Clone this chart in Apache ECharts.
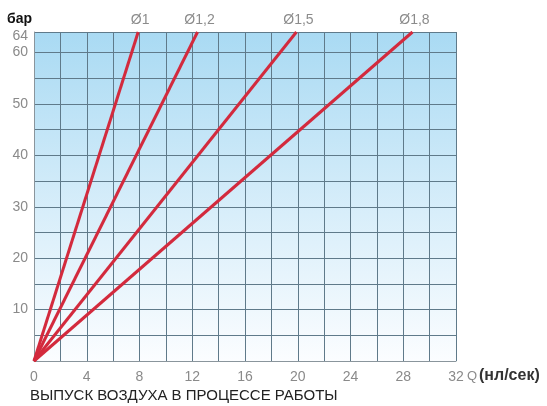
<!DOCTYPE html>
<html>
<head>
<meta charset="utf-8">
<script src="https://cdn.jsdelivr.net/npm/echarts@6/dist/echarts.min.js"></script>
<style>
html,body{margin:0;padding:0;background:#fff;}
#c{width:547px;height:406px;}
</style>
</head>
<body>
<div id="c"></div>
<script>
// Data
var seriesNames = ['Ø1', 'Ø1,2', 'Ø1,5', 'Ø1,8'];
var startQ = [0, 0, 0, 0];
var startP = [0, 0, 0, 0];
var endQ = [7.9, 12.4, 19.9, 28.7];
var endP = [64, 64, 64, 64];
var xTickLabels = [0, 4, 8, 12, 16, 20, 24, 28, 32];
var yTickLabels = [10, 20, 30, 40, 50, 60, 64];
var yAxisTitle = 'бар';
var xAxisUnit = 'Q';
var xAxisUnitText = '(нл/сек)';
var bottomTitle = 'ВЫПУСК ВОЗДУХА В ПРОЦЕССЕ РАБОТЫ';

var chart = echarts.init(document.getElementById('c'), null, {renderer: 'canvas'});
var FONT = 'Liberation Sans, Arial, sans-serif';

var series = seriesNames.map(function (name, i) {
  return {
    name: name,
    type: 'line',
    symbol: 'none',
    silent: true,
    lineStyle: {color: '#d32a3d', width: 3},
    data: [[startQ[i], startP[i]], [endQ[i], endP[i]]],
    z: 5
  };
});

// labels at the line ends
series.push({
  name: 'labels',
  type: 'scatter',
  silent: true,
  clip: false,
  symbolSize: 1,
  itemStyle: {color: 'rgba(0,0,0,0)'},
  label: {
    show: true, position: 'top', distance: 4, offset: [2, 0],
    formatter: function (p) { return seriesNames[p.dataIndex]; },
    color: '#6e6e6e', fontSize: 14, fontFamily: FONT
  },
  data: endQ.map(function (q, i) { return [q, endP[i]]; }),
  z: 6
});

chart.setOption({
  animation: false,
  grid: {
    left: 34, right: 91, top: 32, bottom: 45,
    show: true,
    borderWidth: 0,
    backgroundColor: new echarts.graphic.LinearGradient(0, 0, 0, 1, [
      {offset: 0, color: '#a9daf3'},
      {offset: 0.55, color: '#d8eefa'},
      {offset: 1, color: '#fbfdff'}
    ])
  },
  xAxis: {
    type: 'value', min: 0, max: 32, interval: 2,
    axisLine: {show: true, lineStyle: {color: '#8a959c', width: 1}},
    axisTick: {show: false},
    splitLine: {show: true, lineStyle: {color: '#5f7a8a', width: 1}},
    axisLabel: {
      color: '#8a8a8a', fontSize: 14, fontFamily: FONT, margin: 9,
      formatter: function (v) { return xTickLabels.indexOf(v) >= 0 ? String(v) : ''; }
    }
  },
  yAxis: {
    type: 'value', min: 0, max: 64, interval: 5,
    axisLine: {show: true, lineStyle: {color: '#8a959c', width: 1}},
    axisTick: {show: false},
    splitLine: {show: true, lineStyle: {color: '#5f7a8a', width: 1}},
    axisLabel: {
      color: '#8a8a8a', fontSize: 14, fontFamily: FONT, margin: 6,
      formatter: function (v) {
        if (yTickLabels.indexOf(v) < 0) return '';
        return v === 64 ? '{t|' + v + '}' : String(v);
      },
      rich: {t: {color: '#8a8a8a', fontSize: 14, fontFamily: FONT, padding: [8, 0, 0, 0]}}
    }
  },
  series: series,
  graphic: [
    {type: 'text', left: 7, top: 12, style: {text: yAxisTitle, fill: '#111', font: 'bold 14px ' + FONT}},
    {type: 'text', left: 467, top: 370, style: {text: xAxisUnit, fill: '#8a8a8a', font: '13px ' + FONT}},
    {type: 'text', left: 479, top: 368, style: {text: xAxisUnitText, fill: '#333', font: 'bold 16px ' + FONT}},
    {type: 'text', left: 30, top: 388, style: {text: bottomTitle, fill: '#222', font: '15px ' + FONT}}
  ]
});
</script>
</body>
</html>
